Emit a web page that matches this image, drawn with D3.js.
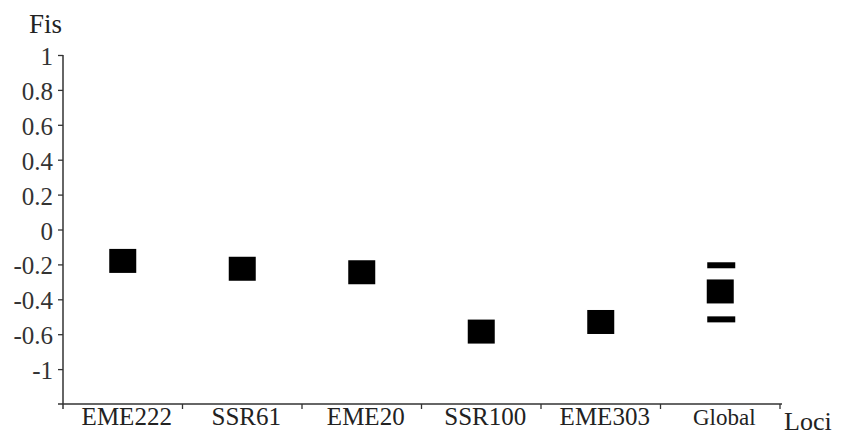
<!DOCTYPE html>
<html>
<head>
<meta charset="utf-8">
<script src="https://cdn.jsdelivr.net/npm/d3@7"></script>
<style>
  body { margin: 0; background: #fff; }
  svg text { font-family: "Liberation Serif", "Times New Roman", serif !important; }
</style>
</head>
<body>
<svg id="chart" width="841" height="435"></svg>
<script>
// loci on the x axis
var loci = ["EME222", "SSR61", "EME20", "SSR100", "EME303", "Global"];
// Fis per locus
var fis = [-0.18, -0.225, -0.245, -0.585, -0.53, -0.355];
// interval bars for the global estimate
var globalLow = -0.515;
var globalHigh = -0.205;
// y tick positions and the labels printed at them
var yTicks = [1, 0.8, 0.6, 0.4, 0.2, 0, -0.2, -0.4, -0.6, -0.8];
var yTickLabels = ["1", "0.8", "0.6", "0.4", "0.2", "0", "-0.2", "-0.4", "-0.6", "-1"];

var svg = d3.select("#chart");
var plotLeft = 63, plotRight = 780, plotTop = 55, plotBottom = 404;

var x = d3.scaleBand().domain(loci).range([plotLeft, plotRight]);
var y = d3.scaleLinear().domain([-1, 1]).range([plotBottom, plotTop]);

// y axis
var yAxis = d3.axisLeft(y)
    .tickValues(yTicks)
    .tickSize(5)
    .tickSizeOuter(0)
    .tickFormat(function (d, i) { return yTickLabels[i]; });
var gy = svg.append("g")
    .attr("transform", "translate(" + plotLeft + ",0)")
    .call(yAxis)
    .attr("font-family", "Liberation Serif")
    .attr("font-size", 25);
gy.select(".domain").remove();
gy.selectAll(".tick line").attr("stroke", "#333").attr("stroke-width", 1.3);
gy.selectAll(".tick text")
    .attr("x", -10)
    .attr("dy", "0.38em")
    .attr("fill", "#333");

// axis lines, slightly overhanging like the original
svg.append("line")
    .attr("x1", plotLeft).attr("x2", plotLeft)
    .attr("y1", y(1)).attr("y2", plotBottom + 5)
    .attr("stroke", "#333").attr("stroke-width", 1.5);
svg.append("line")
    .attr("x1", plotLeft - 5).attr("x2", plotRight + 2)
    .attr("y1", plotBottom).attr("y2", plotBottom)
    .attr("stroke", "#333").attr("stroke-width", 1.5);

// x axis labels
svg.selectAll(".xlab")
    .data(loci)
    .enter().append("text")
    .attr("class", "xlab")
    .attr("x", function (d) { return x(d) + x.bandwidth() / 2 + 4; })
    .attr("y", plotBottom + 21)
    .attr("text-anchor", "middle")
    .attr("fill", "#222")
    .attr("font-size", function (d) { return d === "Global" ? 23 : 25; })
    .text(function (d) { return d; });

// small ticks at the band edges
var edges = loci.map(function (d) { return x(d); }).concat([x.range()[1]]);
svg.selectAll(".xtick")
    .data(edges.slice(1))
    .enter().append("line")
    .attr("x1", function (d) { return d; })
    .attr("x2", function (d) { return d; })
    .attr("y1", plotBottom)
    .attr("y2", plotBottom + 5)
    .attr("stroke", "#333").attr("stroke-width", 1.3);

// axis titles
svg.append("text")
    .attr("x", 29).attr("y", 33)
    .attr("fill", "#222")
    .attr("font-size", 27)
    .text("Fis");
svg.append("text")
    .attr("x", 784).attr("y", 430)
    .attr("fill", "#222")
    .attr("font-size", 26)
    .text("Loci");

// markers
var sq = 27, sqH = 24;
svg.selectAll(".pt")
    .data(loci)
    .enter().append("rect")
    .attr("class", "pt")
    .attr("x", function (d) { return x(d) + x.bandwidth() / 2 - sq / 2; })
    .attr("y", function (d, i) { return y(fis[i]) - sqH / 2; })
    .attr("width", sq)
    .attr("height", sqH)
    .attr("fill", "#000");

// global interval bars
svg.selectAll(".bar")
    .data([globalHigh, globalLow])
    .enter().append("rect")
    .attr("class", "bar")
    .attr("x", x("Global") + x.bandwidth() / 2 - 13)
    .attr("y", function (d) { return y(d) - 3; })
    .attr("width", 28)
    .attr("height", 6)
    .attr("fill", "#000");
</script>
</body>
</html>
